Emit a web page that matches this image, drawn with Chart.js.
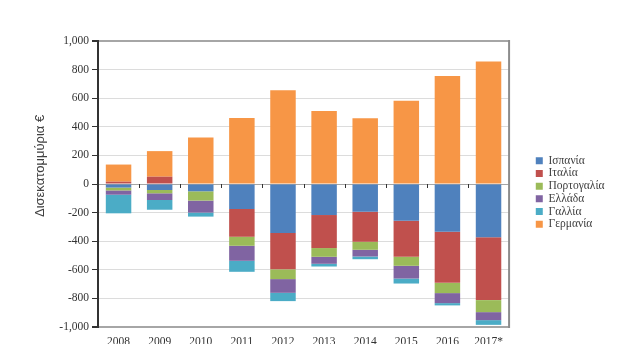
<!DOCTYPE html>
<html>
<head>
<meta charset="utf-8">
<script src="https://cdn.jsdelivr.net/npm/chart.js@4.4.1/dist/chart.umd.min.js"></script>
<style>
html,body{margin:0;padding:0;background:#fff;}
#wrap{width:625px;height:357px;position:relative;}
</style>
</head>
<body>
<div id="wrap"><canvas id="c" width="625" height="357"></canvas></div>
<script>
const years = ['2008','2009','2010','2011','2012','2013','2014','2015','2016','2017*'];
const seriesNames = ['Ισπανία','Ιταλία','Πορτογαλία','Ελλάδα','Γαλλία','Γερμανία'];
const spain    = [-25, -42, -51, -175, -343, -217, -194, -257, -334, -373];
const italy    = [16, 51, 0, -194, -254, -231, -210, -252, -357, -439];
const portugal = [-20, -23, -65, -63, -68, -61, -56, -63, -72, -84];
const greece   = [-30, -47, -84, -105, -96, -49, -47, -89, -70, -56];
const france   = [-130, -68, -28, -77, -58, -19, -19, -35, -16, -33];
const germany  = [120, 179, 326, 462, 655, 511, 460, 583, 756, 856];
const colors = ['#4F81BD','#C0504D','#9BBB59','#8064A2','#4BACC6','#F79646'];
const yTicks = {min:-1000, max:1000, step:200};
const yTitle = 'Δισεκατομμύρια €';

const serif = "'Liberation Serif', serif";
const allSeries = [spain, italy, portugal, greece, france, germany];

const extras = {
  id:'extras',
  afterDraw(chart){
    const {ctx, chartArea:a, scales:{x,y}} = chart;
    ctx.save();
    ctx.strokeStyle = '#8c8c8c';
    ctx.lineWidth = 2;
    ctx.beginPath();
    ctx.moveTo(a.right, a.top-1); ctx.lineTo(a.right, a.bottom+1);
    ctx.stroke();
    const z = y.getPixelForValue(0);
    const n = years.length;
    ctx.strokeStyle = '#333';
    ctx.lineWidth = 1;
    for (let i=1;i<n;i++){
      const px = Math.round((x.getPixelForValue(i-1)+x.getPixelForValue(i))/2)+0.5;
      ctx.beginPath(); ctx.moveTo(px, z); ctx.lineTo(px, z+4); ctx.stroke();
    }
    ctx.restore();
  }
};

new Chart(document.getElementById('c'), {
  type:'bar',
  data:{
    labels: years,
    datasets: seriesNames.map((name,i)=>({
      label:name, data:allSeries[i], backgroundColor:colors[i],
      xAxisID:'x', yAxisID:'y',
      borderWidth:0, barPercentage:0.62, categoryPercentage:1
    }))
  },
  options:{
    responsive:false, animation:false,
    layout:{padding:{left:0, top:41, right:10.5, bottom:13}},
    plugins:{
      tooltip:{enabled:false},
      legend:{
        position:'right', align:'center',
        labels:{boxWidth:7, boxHeight:7, padding:1.2, color:'#404040',
          font:{family:serif, size:11.5}}
      }
    },
    scales:{
      x:{
        stacked:true,
        afterFit(s){ s.height = 17; },
        grid:{display:false, drawTicks:false, tickLength:0},
        border:{display:false},
        ticks:{color:'#333', font:{family:serif, size:11.5}, padding:8, maxRotation:0}
      },
      y:{
        stacked:true,
        min:yTicks.min, max:yTicks.max,
        afterFit(s){ s.width = 98; },
        ticks:{stepSize:yTicks.step, color:'#333', padding:3,
          font:{family:serif, size:11.5},
          callback:(v)=>v.toLocaleString('en-US')},
        grid:{
          color:(c)=> (c.tick && (c.tick.value===0 || c.tick.value===1000 || c.tick.value===-1000)) ? '#a6a6a6' : '#dcdcdc',
          lineWidth:(c)=> (c.tick && (c.tick.value===1000 || c.tick.value===-1000)) ? 2 : 1,
          tickColor:'#333', tickLength:6, drawTicks:true
        },
        border:{display:true, color:'#333', width:2},
        title:{display:true, text:'          ' + yTitle, color:'#404040',
          font:{family:"'Liberation Sans Narrow', 'Liberation Sans', sans-serif", size:13, weight:'normal'},
          padding:{top:33,bottom:0}}
      },
      spacer:{
        type:'linear', position:'right', display:true,
        afterFit(s){ s.width = 25.5; },
        grid:{display:false, drawTicks:false},
        border:{display:false},
        ticks:{display:false}
      }
    }
  },
  plugins:[extras]
});
</script>
</body>
</html>
